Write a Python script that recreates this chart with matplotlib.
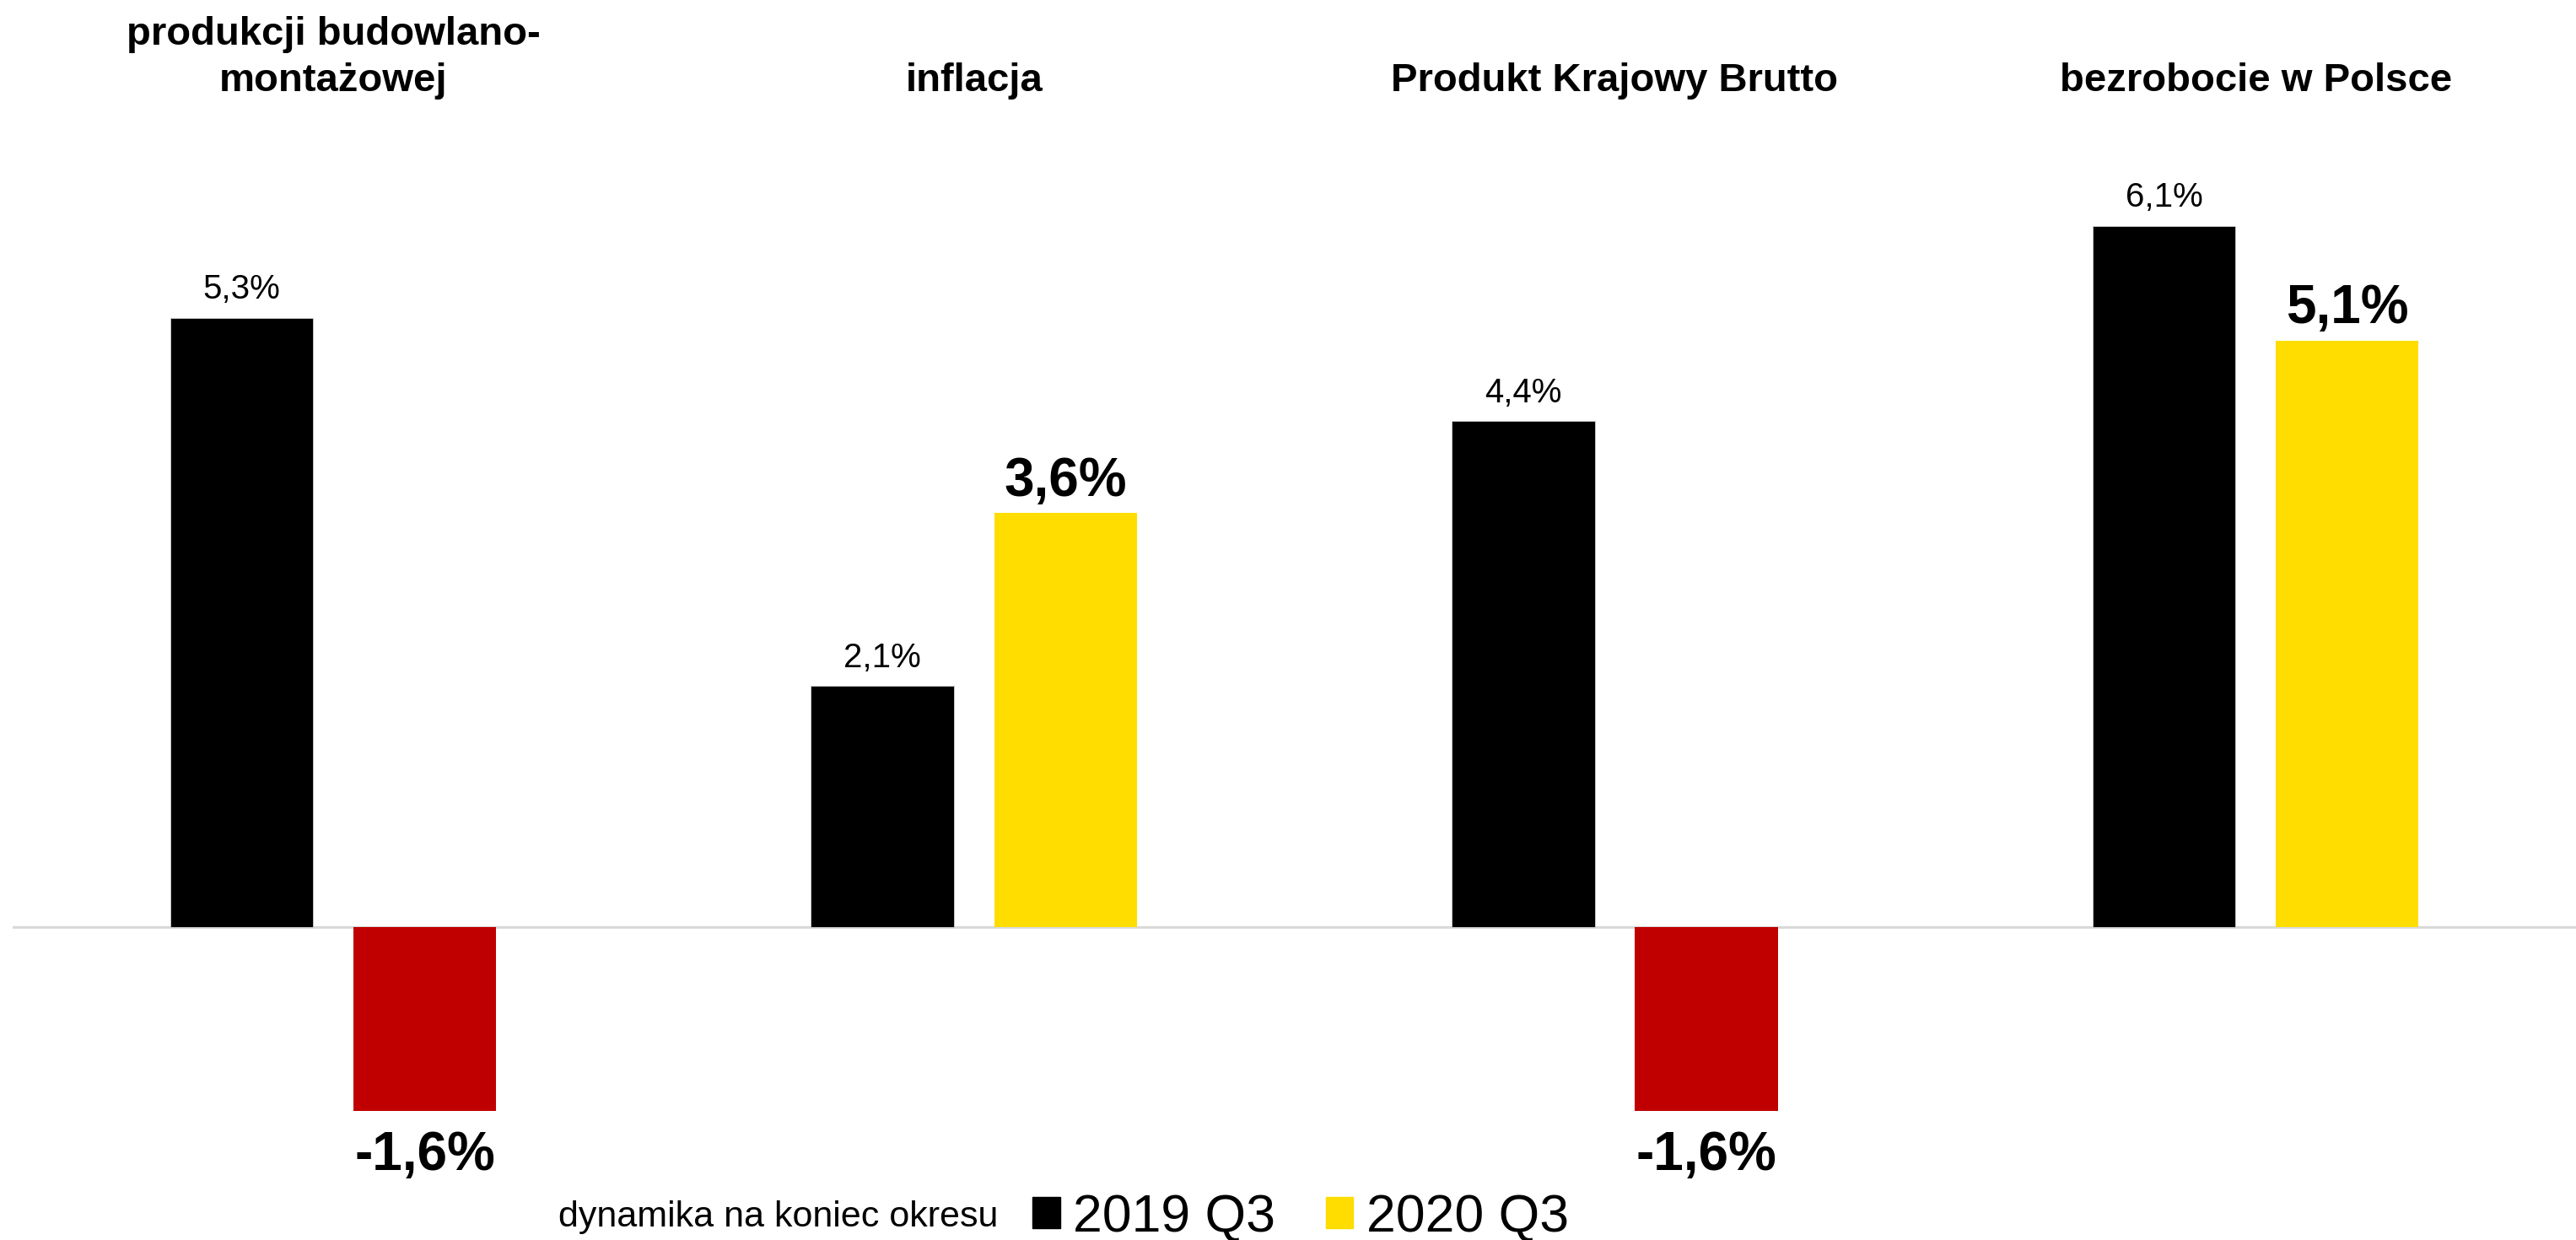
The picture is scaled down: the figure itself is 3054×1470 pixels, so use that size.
import numpy as np
import matplotlib
matplotlib.use('Agg')
import matplotlib.pyplot as plt
from matplotlib.patches import Patch
from matplotlib.transforms import blended_transform_factory

plt.rcParams['font.family'] = ['Liberation Sans', 'DejaVu Sans']

# data
categories = ['produkcji budowlano-\nmontażowej', 'inflacja', 'Produkt Krajowy Brutto', 'bezrobocie w Polsce']
values_2019 = [5.3, 2.1, 4.4, 6.1]
values_2020 = [-1.6, 3.6, -1.6, 5.1]
series_names = ['2019 Q3', '2020 Q3']

black = '#000000'
yellow = '#FFDD00'
red = '#C00000'

fig = plt.figure(figsize=(30.54, 14.7), dpi=100)
ax = fig.add_axes([0.005, 0.011, 0.995, 0.909])

x = np.arange(len(categories))
w = 0.223
off = 0.143

colors_2020 = [red if v < 0 else yellow for v in values_2020]
ax.bar(x - off, values_2019, w, color=black, edgecolor='#d0d0d0', linewidth=0.6, zorder=3)
ax.bar(x + off, values_2020, w, color=colors_2020, zorder=3)

ax.axhline(0, color='#d9d9d9', linewidth=2.2, zorder=2)

# value labels
for xi, v in zip(x, values_2019):
    ax.annotate(f'{v:.1f}%'.replace('.', ','), (xi - off, v), xytext=(0, 16),
                textcoords='offset points', ha='center', va='baseline', fontsize=29)
for xi, v in zip(x, values_2020):
    if v >= 0:
        ax.annotate(f'{v:.1f}%'.replace('.', ','), (xi + off, v), xytext=(0, 15),
                    textcoords='offset points', ha='center', va='baseline',
                    fontsize=46, fontweight='bold')
    else:
        ax.annotate(f'{v:.1f}%'.replace('.', ','), (xi + off, v), xytext=(0, -16),
                    textcoords='offset points', ha='center', va='top',
                    fontsize=46, fontweight='bold')

# category titles above the groups
tr = blended_transform_factory(ax.transData, fig.transFigure)
for xi, name in zip(x, categories):
    ax.text(xi, 1 - 118 / 1470, name, transform=tr, ha='center', va='bottom',
            fontsize=34, fontweight='bold', linespacing=1.33)

ax.set_xlim(-0.5, 3.5)
ax.set_ylim(-2.6, 7.2)
ax.axis('off')

# legend
fig.text(1183 / 3054, 1 - 1443 / 1470, 'dynamika na koniec okresu', ha='right', va='center', fontsize=31)
handles = [Patch(color=black), Patch(color=yellow)]
fig.legend(handles, series_names, loc='center left', bbox_to_anchor=(1224 / 3054, 1 - 1443 / 1470),
           ncol=2, frameon=False, fontsize=45, handlelength=0.52, handleheight=0.52,
           handletextpad=0.25, columnspacing=0.95, borderpad=0, borderaxespad=0)

fig.savefig('out.png', dpi=100)
